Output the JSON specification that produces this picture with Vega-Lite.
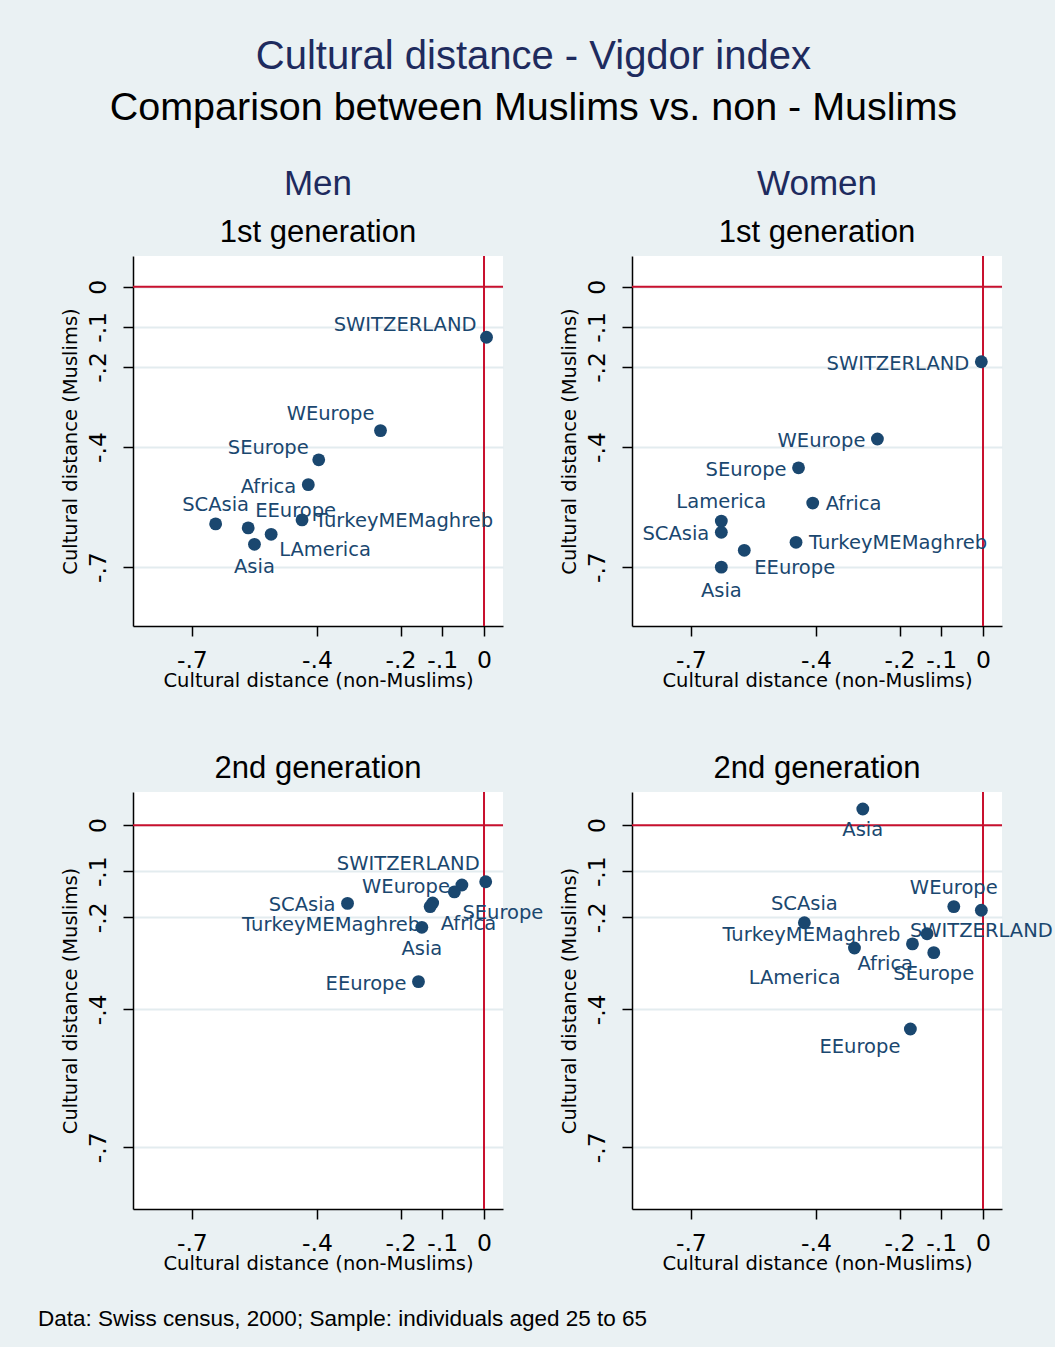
{
  "$schema": "https://vega.github.io/schema/vega-lite/v6.json",
  "background": "#EAF1F3",
  "padding": {"left": 38, "top": 36, "right": 4, "bottom": 17},
  "title": {"text": "Cultural distance - Vigdor index", "subtitle": "Comparison between Muslims vs. non - Muslims", "fontSize": 40, "subtitleFontSize": 39.5, "anchor": "middle", "offset": 40, "subtitlePadding": 12, "dx": -12},
  "datasets": {
    "pts": [
      {"panel": "M1", "region": "SWITZERLAND", "nonmuslim": 0.006, "muslim": -0.126},
      {"panel": "M1", "region": "WEurope", "nonmuslim": -0.248, "muslim": -0.359},
      {"panel": "M1", "region": "SEurope", "nonmuslim": -0.396, "muslim": -0.432},
      {"panel": "M1", "region": "Africa", "nonmuslim": -0.421, "muslim": -0.494},
      {"panel": "M1", "region": "SCAsia", "nonmuslim": -0.643, "muslim": -0.592},
      {"panel": "M1", "region": "EEurope", "nonmuslim": -0.565, "muslim": -0.602},
      {"panel": "M1", "region": "LAmerica", "nonmuslim": -0.510, "muslim": -0.618},
      {"panel": "M1", "region": "Asia", "nonmuslim": -0.550, "muslim": -0.643},
      {"panel": "M1", "region": "TurkeyMEMaghreb", "nonmuslim": -0.436, "muslim": -0.582},
      {"panel": "W1", "region": "SWITZERLAND", "nonmuslim": -0.004, "muslim": -0.187},
      {"panel": "W1", "region": "WEurope", "nonmuslim": -0.253, "muslim": -0.380},
      {"panel": "W1", "region": "SEurope", "nonmuslim": -0.442, "muslim": -0.452},
      {"panel": "W1", "region": "Africa", "nonmuslim": -0.408, "muslim": -0.540},
      {"panel": "W1", "region": "Lamerica", "nonmuslim": -0.627, "muslim": -0.585},
      {"panel": "W1", "region": "SCAsia", "nonmuslim": -0.627, "muslim": -0.613},
      {"panel": "W1", "region": "TurkeyMEMaghreb", "nonmuslim": -0.448, "muslim": -0.638},
      {"panel": "W1", "region": "EEurope", "nonmuslim": -0.572, "muslim": -0.658},
      {"panel": "W1", "region": "Asia", "nonmuslim": -0.627, "muslim": -0.700},
      {"panel": "M2", "region": "SWITZERLAND", "nonmuslim": 0.004, "muslim": -0.123},
      {"panel": "M2", "region": "WEurope", "nonmuslim": -0.053, "muslim": -0.130},
      {"panel": "M2", "region": "SEurope", "nonmuslim": -0.071, "muslim": -0.145},
      {"panel": "M2", "region": "Africa", "nonmuslim": -0.123, "muslim": -0.169},
      {"panel": "M2", "region": "TurkeyMEMaghreb", "nonmuslim": -0.129, "muslim": -0.177},
      {"panel": "M2", "region": "SCAsia", "nonmuslim": -0.327, "muslim": -0.170},
      {"panel": "M2", "region": "Asia", "nonmuslim": -0.149, "muslim": -0.222},
      {"panel": "M2", "region": "EEurope", "nonmuslim": -0.157, "muslim": -0.340},
      {"panel": "W2", "region": "Asia", "nonmuslim": -0.288, "muslim": 0.035},
      {"panel": "W2", "region": "WEurope", "nonmuslim": -0.070, "muslim": -0.177},
      {"panel": "W2", "region": "SWITZERLAND", "nonmuslim": -0.004, "muslim": -0.185},
      {"panel": "W2", "region": "SCAsia", "nonmuslim": -0.428, "muslim": -0.212},
      {"panel": "W2", "region": "LAmerica", "nonmuslim": -0.308, "muslim": -0.267},
      {"panel": "W2", "region": "TurkeyMEMaghreb", "nonmuslim": -0.169, "muslim": -0.258},
      {"panel": "W2", "region": "Africa", "nonmuslim": -0.134, "muslim": -0.236},
      {"panel": "W2", "region": "SEurope", "nonmuslim": -0.118, "muslim": -0.277},
      {"panel": "W2", "region": "EEurope", "nonmuslim": -0.174, "muslim": -0.443}
    ]
  },
  "spacing": 63,
  "vconcat": [
    {
      "spacing": 129,
      "bounds": "flush",
      "hconcat": [
        {
          "data": {"name": "pts"},
          "width": 370, "height": 370,
          "title": {"text": "Men", "subtitle": "1st generation", "fontSize": 35, "subtitleFontSize": 31, "anchor": "middle", "frame": "group", "offset": 7, "subtitlePadding": 16},
          "layer": [
            {"data": {"values": [{}]}, "mark": {"type": "rule", "color": "#C8102E", "strokeWidth": 2}, "encoding": {"y": {"datum": 0, "type": "quantitative", "title": "Cultural distance (Muslims)", "scale": {"domain": [-0.847, 0.077], "nice": false, "zero": false}, "axis": {"values": [-0.7, -0.4, -0.2, -0.1, 0], "labelExpr": "datum.value == 0 ? '0' : '-.' + round(-datum.value * 10)"}}}},
            {"data": {"values": [{}]}, "mark": {"type": "rule", "color": "#C8102E", "strokeWidth": 2}, "encoding": {"x": {"datum": 0, "type": "quantitative", "title": "Cultural distance (non-Muslims)", "scale": {"domain": [-0.841, 0.0455], "nice": false, "zero": false}, "axis": {"values": [-0.7, -0.4, -0.2, -0.1, 0], "labelExpr": "datum.value == 0 ? '0' : '-.' + round(-datum.value * 10)"}}}},
            {"transform": [{"filter": "datum.panel === 'M1' && indexof(['TurkeyMEMaghreb'], datum.region) >= 0"}], "mark": {"type": "text", "align": "left", "dx": 13, "dy": 1},
             "encoding": {"x": {"field": "nonmuslim", "type": "quantitative", "title": "Cultural distance (non-Muslims)", "scale": {"domain": [-0.841, 0.0455], "nice": false, "zero": false}, "axis": {"values": [-0.7, -0.4, -0.2, -0.1, 0], "labelExpr": "datum.value == 0 ? '0' : '-.' + round(-datum.value * 10)"}}, "y": {"field": "muslim", "type": "quantitative", "title": "Cultural distance (Muslims)", "scale": {"domain": [-0.847, 0.077], "nice": false, "zero": false}, "axis": {"values": [-0.7, -0.4, -0.2, -0.1, 0], "labelExpr": "datum.value == 0 ? '0' : '-.' + round(-datum.value * 10)"}}, "text": {"field": "region"}}},
            {"transform": [{"filter": "datum.panel === 'M1' && indexof(['Africa'], datum.region) >= 0"}], "mark": {"type": "text", "align": "right", "dx": -12, "dy": 2},
             "encoding": {"x": {"field": "nonmuslim", "type": "quantitative", "title": "Cultural distance (non-Muslims)", "scale": {"domain": [-0.841, 0.0455], "nice": false, "zero": false}, "axis": {"values": [-0.7, -0.4, -0.2, -0.1, 0], "labelExpr": "datum.value == 0 ? '0' : '-.' + round(-datum.value * 10)"}}, "y": {"field": "muslim", "type": "quantitative", "title": "Cultural distance (Muslims)", "scale": {"domain": [-0.847, 0.077], "nice": false, "zero": false}, "axis": {"values": [-0.7, -0.4, -0.2, -0.1, 0], "labelExpr": "datum.value == 0 ? '0' : '-.' + round(-datum.value * 10)"}}, "text": {"field": "region"}}},
            {"transform": [{"filter": "datum.panel === 'M1' && indexof(['SCAsia'], datum.region) >= 0"}], "mark": {"type": "text", "align": "center", "dx": 0, "dy": -19},
             "encoding": {"x": {"field": "nonmuslim", "type": "quantitative", "title": "Cultural distance (non-Muslims)", "scale": {"domain": [-0.841, 0.0455], "nice": false, "zero": false}, "axis": {"values": [-0.7, -0.4, -0.2, -0.1, 0], "labelExpr": "datum.value == 0 ? '0' : '-.' + round(-datum.value * 10)"}}, "y": {"field": "muslim", "type": "quantitative", "title": "Cultural distance (Muslims)", "scale": {"domain": [-0.847, 0.077], "nice": false, "zero": false}, "axis": {"values": [-0.7, -0.4, -0.2, -0.1, 0], "labelExpr": "datum.value == 0 ? '0' : '-.' + round(-datum.value * 10)"}}, "text": {"field": "region"}}},
            {"transform": [{"filter": "datum.panel === 'M1' && indexof(['Asia'], datum.region) >= 0"}], "mark": {"type": "text", "align": "center", "dx": 0, "dy": 23},
             "encoding": {"x": {"field": "nonmuslim", "type": "quantitative", "title": "Cultural distance (non-Muslims)", "scale": {"domain": [-0.841, 0.0455], "nice": false, "zero": false}, "axis": {"values": [-0.7, -0.4, -0.2, -0.1, 0], "labelExpr": "datum.value == 0 ? '0' : '-.' + round(-datum.value * 10)"}}, "y": {"field": "muslim", "type": "quantitative", "title": "Cultural distance (Muslims)", "scale": {"domain": [-0.847, 0.077], "nice": false, "zero": false}, "axis": {"values": [-0.7, -0.4, -0.2, -0.1, 0], "labelExpr": "datum.value == 0 ? '0' : '-.' + round(-datum.value * 10)"}}, "text": {"field": "region"}}},
            {"transform": [{"filter": "datum.panel === 'M1' && indexof(['SWITZERLAND', 'SEurope'], datum.region) >= 0"}], "mark": {"type": "text", "align": "right", "dx": -10, "dy": -12},
             "encoding": {"x": {"field": "nonmuslim", "type": "quantitative", "title": "Cultural distance (non-Muslims)", "scale": {"domain": [-0.841, 0.0455], "nice": false, "zero": false}, "axis": {"values": [-0.7, -0.4, -0.2, -0.1, 0], "labelExpr": "datum.value == 0 ? '0' : '-.' + round(-datum.value * 10)"}}, "y": {"field": "muslim", "type": "quantitative", "title": "Cultural distance (Muslims)", "scale": {"domain": [-0.847, 0.077], "nice": false, "zero": false}, "axis": {"values": [-0.7, -0.4, -0.2, -0.1, 0], "labelExpr": "datum.value == 0 ? '0' : '-.' + round(-datum.value * 10)"}}, "text": {"field": "region"}}},
            {"transform": [{"filter": "datum.panel === 'M1' && indexof(['WEurope'], datum.region) >= 0"}], "mark": {"type": "text", "align": "right", "dx": -6, "dy": -17},
             "encoding": {"x": {"field": "nonmuslim", "type": "quantitative", "title": "Cultural distance (non-Muslims)", "scale": {"domain": [-0.841, 0.0455], "nice": false, "zero": false}, "axis": {"values": [-0.7, -0.4, -0.2, -0.1, 0], "labelExpr": "datum.value == 0 ? '0' : '-.' + round(-datum.value * 10)"}}, "y": {"field": "muslim", "type": "quantitative", "title": "Cultural distance (Muslims)", "scale": {"domain": [-0.847, 0.077], "nice": false, "zero": false}, "axis": {"values": [-0.7, -0.4, -0.2, -0.1, 0], "labelExpr": "datum.value == 0 ? '0' : '-.' + round(-datum.value * 10)"}}, "text": {"field": "region"}}},
            {"transform": [{"filter": "datum.panel === 'M1' && indexof(['EEurope'], datum.region) >= 0"}], "mark": {"type": "text", "align": "left", "dx": 7, "dy": -17},
             "encoding": {"x": {"field": "nonmuslim", "type": "quantitative", "title": "Cultural distance (non-Muslims)", "scale": {"domain": [-0.841, 0.0455], "nice": false, "zero": false}, "axis": {"values": [-0.7, -0.4, -0.2, -0.1, 0], "labelExpr": "datum.value == 0 ? '0' : '-.' + round(-datum.value * 10)"}}, "y": {"field": "muslim", "type": "quantitative", "title": "Cultural distance (Muslims)", "scale": {"domain": [-0.847, 0.077], "nice": false, "zero": false}, "axis": {"values": [-0.7, -0.4, -0.2, -0.1, 0], "labelExpr": "datum.value == 0 ? '0' : '-.' + round(-datum.value * 10)"}}, "text": {"field": "region"}}},
            {"transform": [{"filter": "datum.panel === 'M1' && indexof(['LAmerica'], datum.region) >= 0"}], "mark": {"type": "text", "align": "left", "dx": 8, "dy": 16},
             "encoding": {"x": {"field": "nonmuslim", "type": "quantitative", "title": "Cultural distance (non-Muslims)", "scale": {"domain": [-0.841, 0.0455], "nice": false, "zero": false}, "axis": {"values": [-0.7, -0.4, -0.2, -0.1, 0], "labelExpr": "datum.value == 0 ? '0' : '-.' + round(-datum.value * 10)"}}, "y": {"field": "muslim", "type": "quantitative", "title": "Cultural distance (Muslims)", "scale": {"domain": [-0.847, 0.077], "nice": false, "zero": false}, "axis": {"values": [-0.7, -0.4, -0.2, -0.1, 0], "labelExpr": "datum.value == 0 ? '0' : '-.' + round(-datum.value * 10)"}}, "text": {"field": "region"}}},
            {"transform": [{"filter": "datum.panel === 'M1'"}], "mark": {"type": "circle", "size": 165, "opacity": 1, "color": "#1A476F"},
             "encoding": {"x": {"field": "nonmuslim", "type": "quantitative", "title": "Cultural distance (non-Muslims)", "scale": {"domain": [-0.841, 0.0455], "nice": false, "zero": false}, "axis": {"values": [-0.7, -0.4, -0.2, -0.1, 0], "labelExpr": "datum.value == 0 ? '0' : '-.' + round(-datum.value * 10)"}}, "y": {"field": "muslim", "type": "quantitative", "title": "Cultural distance (Muslims)", "scale": {"domain": [-0.847, 0.077], "nice": false, "zero": false}, "axis": {"values": [-0.7, -0.4, -0.2, -0.1, 0], "labelExpr": "datum.value == 0 ? '0' : '-.' + round(-datum.value * 10)"}}}}
          ]
        },
        {
          "data": {"name": "pts"},
          "width": 370, "height": 370,
          "title": {"text": "Women", "subtitle": "1st generation", "fontSize": 35, "subtitleFontSize": 31, "anchor": "middle", "frame": "group", "offset": 7, "subtitlePadding": 16},
          "layer": [
            {"data": {"values": [{}]}, "mark": {"type": "rule", "color": "#C8102E", "strokeWidth": 2}, "encoding": {"y": {"datum": 0, "type": "quantitative", "title": "Cultural distance (Muslims)", "scale": {"domain": [-0.847, 0.077], "nice": false, "zero": false}, "axis": {"values": [-0.7, -0.4, -0.2, -0.1, 0], "labelExpr": "datum.value == 0 ? '0' : '-.' + round(-datum.value * 10)"}}}},
            {"data": {"values": [{}]}, "mark": {"type": "rule", "color": "#C8102E", "strokeWidth": 2}, "encoding": {"x": {"datum": 0, "type": "quantitative", "title": "Cultural distance (non-Muslims)", "scale": {"domain": [-0.841, 0.0455], "nice": false, "zero": false}, "axis": {"values": [-0.7, -0.4, -0.2, -0.1, 0], "labelExpr": "datum.value == 0 ? '0' : '-.' + round(-datum.value * 10)"}}}},
            {"transform": [{"filter": "datum.panel === 'W1' && indexof(['Africa', 'TurkeyMEMaghreb'], datum.region) >= 0"}], "mark": {"type": "text", "align": "left", "dx": 13, "dy": 1},
             "encoding": {"x": {"field": "nonmuslim", "type": "quantitative", "title": "Cultural distance (non-Muslims)", "scale": {"domain": [-0.841, 0.0455], "nice": false, "zero": false}, "axis": {"values": [-0.7, -0.4, -0.2, -0.1, 0], "labelExpr": "datum.value == 0 ? '0' : '-.' + round(-datum.value * 10)"}}, "y": {"field": "muslim", "type": "quantitative", "title": "Cultural distance (Muslims)", "scale": {"domain": [-0.847, 0.077], "nice": false, "zero": false}, "axis": {"values": [-0.7, -0.4, -0.2, -0.1, 0], "labelExpr": "datum.value == 0 ? '0' : '-.' + round(-datum.value * 10)"}}, "text": {"field": "region"}}},
            {"transform": [{"filter": "datum.panel === 'W1' && indexof(['SWITZERLAND', 'WEurope', 'SEurope', 'SCAsia'], datum.region) >= 0"}], "mark": {"type": "text", "align": "right", "dx": -12, "dy": 2},
             "encoding": {"x": {"field": "nonmuslim", "type": "quantitative", "title": "Cultural distance (non-Muslims)", "scale": {"domain": [-0.841, 0.0455], "nice": false, "zero": false}, "axis": {"values": [-0.7, -0.4, -0.2, -0.1, 0], "labelExpr": "datum.value == 0 ? '0' : '-.' + round(-datum.value * 10)"}}, "y": {"field": "muslim", "type": "quantitative", "title": "Cultural distance (Muslims)", "scale": {"domain": [-0.847, 0.077], "nice": false, "zero": false}, "axis": {"values": [-0.7, -0.4, -0.2, -0.1, 0], "labelExpr": "datum.value == 0 ? '0' : '-.' + round(-datum.value * 10)"}}, "text": {"field": "region"}}},
            {"transform": [{"filter": "datum.panel === 'W1' && indexof(['Lamerica'], datum.region) >= 0"}], "mark": {"type": "text", "align": "center", "dx": 0, "dy": -19},
             "encoding": {"x": {"field": "nonmuslim", "type": "quantitative", "title": "Cultural distance (non-Muslims)", "scale": {"domain": [-0.841, 0.0455], "nice": false, "zero": false}, "axis": {"values": [-0.7, -0.4, -0.2, -0.1, 0], "labelExpr": "datum.value == 0 ? '0' : '-.' + round(-datum.value * 10)"}}, "y": {"field": "muslim", "type": "quantitative", "title": "Cultural distance (Muslims)", "scale": {"domain": [-0.847, 0.077], "nice": false, "zero": false}, "axis": {"values": [-0.7, -0.4, -0.2, -0.1, 0], "labelExpr": "datum.value == 0 ? '0' : '-.' + round(-datum.value * 10)"}}, "text": {"field": "region"}}},
            {"transform": [{"filter": "datum.panel === 'W1' && indexof(['Asia'], datum.region) >= 0"}], "mark": {"type": "text", "align": "center", "dx": 0, "dy": 24},
             "encoding": {"x": {"field": "nonmuslim", "type": "quantitative", "title": "Cultural distance (non-Muslims)", "scale": {"domain": [-0.841, 0.0455], "nice": false, "zero": false}, "axis": {"values": [-0.7, -0.4, -0.2, -0.1, 0], "labelExpr": "datum.value == 0 ? '0' : '-.' + round(-datum.value * 10)"}}, "y": {"field": "muslim", "type": "quantitative", "title": "Cultural distance (Muslims)", "scale": {"domain": [-0.847, 0.077], "nice": false, "zero": false}, "axis": {"values": [-0.7, -0.4, -0.2, -0.1, 0], "labelExpr": "datum.value == 0 ? '0' : '-.' + round(-datum.value * 10)"}}, "text": {"field": "region"}}},
            {"transform": [{"filter": "datum.panel === 'W1' && indexof(['EEurope'], datum.region) >= 0"}], "mark": {"type": "text", "align": "left", "dx": 10, "dy": 18},
             "encoding": {"x": {"field": "nonmuslim", "type": "quantitative", "title": "Cultural distance (non-Muslims)", "scale": {"domain": [-0.841, 0.0455], "nice": false, "zero": false}, "axis": {"values": [-0.7, -0.4, -0.2, -0.1, 0], "labelExpr": "datum.value == 0 ? '0' : '-.' + round(-datum.value * 10)"}}, "y": {"field": "muslim", "type": "quantitative", "title": "Cultural distance (Muslims)", "scale": {"domain": [-0.847, 0.077], "nice": false, "zero": false}, "axis": {"values": [-0.7, -0.4, -0.2, -0.1, 0], "labelExpr": "datum.value == 0 ? '0' : '-.' + round(-datum.value * 10)"}}, "text": {"field": "region"}}},
            {"transform": [{"filter": "datum.panel === 'W1'"}], "mark": {"type": "circle", "size": 165, "opacity": 1, "color": "#1A476F"},
             "encoding": {"x": {"field": "nonmuslim", "type": "quantitative", "title": "Cultural distance (non-Muslims)", "scale": {"domain": [-0.841, 0.0455], "nice": false, "zero": false}, "axis": {"values": [-0.7, -0.4, -0.2, -0.1, 0], "labelExpr": "datum.value == 0 ? '0' : '-.' + round(-datum.value * 10)"}}, "y": {"field": "muslim", "type": "quantitative", "title": "Cultural distance (Muslims)", "scale": {"domain": [-0.847, 0.077], "nice": false, "zero": false}, "axis": {"values": [-0.7, -0.4, -0.2, -0.1, 0], "labelExpr": "datum.value == 0 ? '0' : '-.' + round(-datum.value * 10)"}}}}
          ]
        }
      ]
    },
    {
      "spacing": 129,
      "bounds": "flush",
      "title": {"text": "Data: Swiss census, 2000; Sample: individuals aged 25 to 65", "orient": "bottom", "anchor": "start", "frame": "group", "dx": -95, "fontSize": 22.5, "color": "#000000", "offset": 35},
      "hconcat": [
        {
          "data": {"name": "pts"},
          "width": 370, "height": 417,
          "title": {"text": "2nd generation", "fontSize": 31, "color": "#000000", "anchor": "middle", "frame": "group", "offset": 6},
          "layer": [
            {"data": {"values": [{}]}, "mark": {"type": "rule", "color": "#C8102E", "strokeWidth": 2}, "encoding": {"y": {"datum": 0, "type": "quantitative", "title": "Cultural distance (Muslims)", "scale": {"domain": [-0.834, 0.072], "nice": false, "zero": false}, "axis": {"values": [-0.7, -0.4, -0.2, -0.1, 0], "labelExpr": "datum.value == 0 ? '0' : '-.' + round(-datum.value * 10)"}}}},
            {"data": {"values": [{}]}, "mark": {"type": "rule", "color": "#C8102E", "strokeWidth": 2}, "encoding": {"x": {"datum": 0, "type": "quantitative", "title": "Cultural distance (non-Muslims)", "scale": {"domain": [-0.841, 0.0455], "nice": false, "zero": false}, "axis": {"values": [-0.7, -0.4, -0.2, -0.1, 0], "labelExpr": "datum.value == 0 ? '0' : '-.' + round(-datum.value * 10)"}}}},
            {"transform": [{"filter": "datum.panel === 'M2' && indexof(['WEurope', 'SCAsia', 'EEurope'], datum.region) >= 0"}], "mark": {"type": "text", "align": "right", "dx": -12, "dy": 2},
             "encoding": {"x": {"field": "nonmuslim", "type": "quantitative", "title": "Cultural distance (non-Muslims)", "scale": {"domain": [-0.841, 0.0455], "nice": false, "zero": false}, "axis": {"values": [-0.7, -0.4, -0.2, -0.1, 0], "labelExpr": "datum.value == 0 ? '0' : '-.' + round(-datum.value * 10)"}}, "y": {"field": "muslim", "type": "quantitative", "title": "Cultural distance (Muslims)", "scale": {"domain": [-0.834, 0.072], "nice": false, "zero": false}, "axis": {"values": [-0.7, -0.4, -0.2, -0.1, 0], "labelExpr": "datum.value == 0 ? '0' : '-.' + round(-datum.value * 10)"}}, "text": {"field": "region"}}},
            {"transform": [{"filter": "datum.panel === 'M2' && indexof(['Asia'], datum.region) >= 0"}], "mark": {"type": "text", "align": "center", "dx": 0, "dy": 22},
             "encoding": {"x": {"field": "nonmuslim", "type": "quantitative", "title": "Cultural distance (non-Muslims)", "scale": {"domain": [-0.841, 0.0455], "nice": false, "zero": false}, "axis": {"values": [-0.7, -0.4, -0.2, -0.1, 0], "labelExpr": "datum.value == 0 ? '0' : '-.' + round(-datum.value * 10)"}}, "y": {"field": "muslim", "type": "quantitative", "title": "Cultural distance (Muslims)", "scale": {"domain": [-0.834, 0.072], "nice": false, "zero": false}, "axis": {"values": [-0.7, -0.4, -0.2, -0.1, 0], "labelExpr": "datum.value == 0 ? '0' : '-.' + round(-datum.value * 10)"}}, "text": {"field": "region"}}},
            {"transform": [{"filter": "datum.panel === 'M2' && indexof(['SWITZERLAND'], datum.region) >= 0"}], "mark": {"type": "text", "align": "right", "dx": -6, "dy": -18},
             "encoding": {"x": {"field": "nonmuslim", "type": "quantitative", "title": "Cultural distance (non-Muslims)", "scale": {"domain": [-0.841, 0.0455], "nice": false, "zero": false}, "axis": {"values": [-0.7, -0.4, -0.2, -0.1, 0], "labelExpr": "datum.value == 0 ? '0' : '-.' + round(-datum.value * 10)"}}, "y": {"field": "muslim", "type": "quantitative", "title": "Cultural distance (Muslims)", "scale": {"domain": [-0.834, 0.072], "nice": false, "zero": false}, "axis": {"values": [-0.7, -0.4, -0.2, -0.1, 0], "labelExpr": "datum.value == 0 ? '0' : '-.' + round(-datum.value * 10)"}}, "text": {"field": "region"}}},
            {"transform": [{"filter": "datum.panel === 'M2' && indexof(['SEurope', 'Africa'], datum.region) >= 0"}], "mark": {"type": "text", "align": "left", "dx": 8, "dy": 21},
             "encoding": {"x": {"field": "nonmuslim", "type": "quantitative", "title": "Cultural distance (non-Muslims)", "scale": {"domain": [-0.841, 0.0455], "nice": false, "zero": false}, "axis": {"values": [-0.7, -0.4, -0.2, -0.1, 0], "labelExpr": "datum.value == 0 ? '0' : '-.' + round(-datum.value * 10)"}}, "y": {"field": "muslim", "type": "quantitative", "title": "Cultural distance (Muslims)", "scale": {"domain": [-0.834, 0.072], "nice": false, "zero": false}, "axis": {"values": [-0.7, -0.4, -0.2, -0.1, 0], "labelExpr": "datum.value == 0 ? '0' : '-.' + round(-datum.value * 10)"}}, "text": {"field": "region"}}},
            {"transform": [{"filter": "datum.panel === 'M2' && indexof(['TurkeyMEMaghreb'], datum.region) >= 0"}], "mark": {"type": "text", "align": "right", "dx": -10, "dy": 18},
             "encoding": {"x": {"field": "nonmuslim", "type": "quantitative", "title": "Cultural distance (non-Muslims)", "scale": {"domain": [-0.841, 0.0455], "nice": false, "zero": false}, "axis": {"values": [-0.7, -0.4, -0.2, -0.1, 0], "labelExpr": "datum.value == 0 ? '0' : '-.' + round(-datum.value * 10)"}}, "y": {"field": "muslim", "type": "quantitative", "title": "Cultural distance (Muslims)", "scale": {"domain": [-0.834, 0.072], "nice": false, "zero": false}, "axis": {"values": [-0.7, -0.4, -0.2, -0.1, 0], "labelExpr": "datum.value == 0 ? '0' : '-.' + round(-datum.value * 10)"}}, "text": {"field": "region"}}},
            {"transform": [{"filter": "datum.panel === 'M2'"}], "mark": {"type": "circle", "size": 165, "opacity": 1, "color": "#1A476F"},
             "encoding": {"x": {"field": "nonmuslim", "type": "quantitative", "title": "Cultural distance (non-Muslims)", "scale": {"domain": [-0.841, 0.0455], "nice": false, "zero": false}, "axis": {"values": [-0.7, -0.4, -0.2, -0.1, 0], "labelExpr": "datum.value == 0 ? '0' : '-.' + round(-datum.value * 10)"}}, "y": {"field": "muslim", "type": "quantitative", "title": "Cultural distance (Muslims)", "scale": {"domain": [-0.834, 0.072], "nice": false, "zero": false}, "axis": {"values": [-0.7, -0.4, -0.2, -0.1, 0], "labelExpr": "datum.value == 0 ? '0' : '-.' + round(-datum.value * 10)"}}}}
          ]
        },
        {
          "data": {"name": "pts"},
          "width": 370, "height": 417,
          "title": {"text": "2nd generation", "fontSize": 31, "color": "#000000", "anchor": "middle", "frame": "group", "offset": 6},
          "layer": [
            {"data": {"values": [{}]}, "mark": {"type": "rule", "color": "#C8102E", "strokeWidth": 2}, "encoding": {"y": {"datum": 0, "type": "quantitative", "title": "Cultural distance (Muslims)", "scale": {"domain": [-0.834, 0.072], "nice": false, "zero": false}, "axis": {"values": [-0.7, -0.4, -0.2, -0.1, 0], "labelExpr": "datum.value == 0 ? '0' : '-.' + round(-datum.value * 10)"}}}},
            {"data": {"values": [{}]}, "mark": {"type": "rule", "color": "#C8102E", "strokeWidth": 2}, "encoding": {"x": {"datum": 0, "type": "quantitative", "title": "Cultural distance (non-Muslims)", "scale": {"domain": [-0.841, 0.0455], "nice": false, "zero": false}, "axis": {"values": [-0.7, -0.4, -0.2, -0.1, 0], "labelExpr": "datum.value == 0 ? '0' : '-.' + round(-datum.value * 10)"}}}},
            {"transform": [{"filter": "datum.panel === 'W2' && indexof(['WEurope', 'SCAsia'], datum.region) >= 0"}], "mark": {"type": "text", "align": "center", "dx": 0, "dy": -19},
             "encoding": {"x": {"field": "nonmuslim", "type": "quantitative", "title": "Cultural distance (non-Muslims)", "scale": {"domain": [-0.841, 0.0455], "nice": false, "zero": false}, "axis": {"values": [-0.7, -0.4, -0.2, -0.1, 0], "labelExpr": "datum.value == 0 ? '0' : '-.' + round(-datum.value * 10)"}}, "y": {"field": "muslim", "type": "quantitative", "title": "Cultural distance (Muslims)", "scale": {"domain": [-0.834, 0.072], "nice": false, "zero": false}, "axis": {"values": [-0.7, -0.4, -0.2, -0.1, 0], "labelExpr": "datum.value == 0 ? '0' : '-.' + round(-datum.value * 10)"}}, "text": {"field": "region"}}},
            {"transform": [{"filter": "datum.panel === 'W2' && indexof(['Asia', 'SWITZERLAND', 'SEurope'], datum.region) >= 0"}], "mark": {"type": "text", "align": "center", "dx": 0, "dy": 21},
             "encoding": {"x": {"field": "nonmuslim", "type": "quantitative", "title": "Cultural distance (non-Muslims)", "scale": {"domain": [-0.841, 0.0455], "nice": false, "zero": false}, "axis": {"values": [-0.7, -0.4, -0.2, -0.1, 0], "labelExpr": "datum.value == 0 ? '0' : '-.' + round(-datum.value * 10)"}}, "y": {"field": "muslim", "type": "quantitative", "title": "Cultural distance (Muslims)", "scale": {"domain": [-0.834, 0.072], "nice": false, "zero": false}, "axis": {"values": [-0.7, -0.4, -0.2, -0.1, 0], "labelExpr": "datum.value == 0 ? '0' : '-.' + round(-datum.value * 10)"}}, "text": {"field": "region"}}},
            {"transform": [{"filter": "datum.panel === 'W2' && indexof(['TurkeyMEMaghreb'], datum.region) >= 0"}], "mark": {"type": "text", "align": "right", "dx": -12, "dy": -9},
             "encoding": {"x": {"field": "nonmuslim", "type": "quantitative", "title": "Cultural distance (non-Muslims)", "scale": {"domain": [-0.841, 0.0455], "nice": false, "zero": false}, "axis": {"values": [-0.7, -0.4, -0.2, -0.1, 0], "labelExpr": "datum.value == 0 ? '0' : '-.' + round(-datum.value * 10)"}}, "y": {"field": "muslim", "type": "quantitative", "title": "Cultural distance (Muslims)", "scale": {"domain": [-0.834, 0.072], "nice": false, "zero": false}, "axis": {"values": [-0.7, -0.4, -0.2, -0.1, 0], "labelExpr": "datum.value == 0 ? '0' : '-.' + round(-datum.value * 10)"}}, "text": {"field": "region"}}},
            {"transform": [{"filter": "datum.panel === 'W2' && indexof(['EEurope'], datum.region) >= 0"}], "mark": {"type": "text", "align": "right", "dx": -10, "dy": 18},
             "encoding": {"x": {"field": "nonmuslim", "type": "quantitative", "title": "Cultural distance (non-Muslims)", "scale": {"domain": [-0.841, 0.0455], "nice": false, "zero": false}, "axis": {"values": [-0.7, -0.4, -0.2, -0.1, 0], "labelExpr": "datum.value == 0 ? '0' : '-.' + round(-datum.value * 10)"}}, "y": {"field": "muslim", "type": "quantitative", "title": "Cultural distance (Muslims)", "scale": {"domain": [-0.834, 0.072], "nice": false, "zero": false}, "axis": {"values": [-0.7, -0.4, -0.2, -0.1, 0], "labelExpr": "datum.value == 0 ? '0' : '-.' + round(-datum.value * 10)"}}, "text": {"field": "region"}}},
            {"transform": [{"filter": "datum.panel === 'W2' && indexof(['LAmerica', 'Africa'], datum.region) >= 0"}], "mark": {"type": "text", "align": "right", "dx": -14, "dy": 30},
             "encoding": {"x": {"field": "nonmuslim", "type": "quantitative", "title": "Cultural distance (non-Muslims)", "scale": {"domain": [-0.841, 0.0455], "nice": false, "zero": false}, "axis": {"values": [-0.7, -0.4, -0.2, -0.1, 0], "labelExpr": "datum.value == 0 ? '0' : '-.' + round(-datum.value * 10)"}}, "y": {"field": "muslim", "type": "quantitative", "title": "Cultural distance (Muslims)", "scale": {"domain": [-0.834, 0.072], "nice": false, "zero": false}, "axis": {"values": [-0.7, -0.4, -0.2, -0.1, 0], "labelExpr": "datum.value == 0 ? '0' : '-.' + round(-datum.value * 10)"}}, "text": {"field": "region"}}},
            {"transform": [{"filter": "datum.panel === 'W2'"}], "mark": {"type": "circle", "size": 165, "opacity": 1, "color": "#1A476F"},
             "encoding": {"x": {"field": "nonmuslim", "type": "quantitative", "title": "Cultural distance (non-Muslims)", "scale": {"domain": [-0.841, 0.0455], "nice": false, "zero": false}, "axis": {"values": [-0.7, -0.4, -0.2, -0.1, 0], "labelExpr": "datum.value == 0 ? '0' : '-.' + round(-datum.value * 10)"}}, "y": {"field": "muslim", "type": "quantitative", "title": "Cultural distance (Muslims)", "scale": {"domain": [-0.834, 0.072], "nice": false, "zero": false}, "axis": {"values": [-0.7, -0.4, -0.2, -0.1, 0], "labelExpr": "datum.value == 0 ? '0' : '-.' + round(-datum.value * 10)"}}}}
          ]
        }
      ]
    }
  ],
  "config": {
    "view": {"fill": "#FFFFFF", "stroke": null},
    "axis": {"domainColor": "#000000", "domainWidth": 1.5, "tickColor": "#000000", "tickWidth": 1.5, "tickSize": 10, "labelFont": "DejaVu Sans", "labelFontSize": 23.5, "labelColor": "#000000", "titleFont": "DejaVu Sans", "titleFontSize": 19.5, "titleFontWeight": "normal", "titleColor": "#000000", "gridColor": "#E3ECEF", "gridWidth": 2, "labelOverlap": false, "labelFlush": false},
    "axisX": {"grid": false, "labelPadding": 12, "titlePadding": 0},
    "axisY": {"grid": true, "labelAngle": -90, "labelAlign": "center", "labelBaseline": "bottom", "labelPadding": 13, "titlePadding": 6},
    "text": {"font": "DejaVu Sans", "fontSize": 19.5, "color": "#1A476F", "baseline": "middle"},
    "title": {"font": "Liberation Sans", "fontWeight": "normal", "subtitleFont": "Liberation Sans", "subtitleFontWeight": "normal", "color": "#1E2B5E", "subtitleColor": "#000000"}
  }
}
